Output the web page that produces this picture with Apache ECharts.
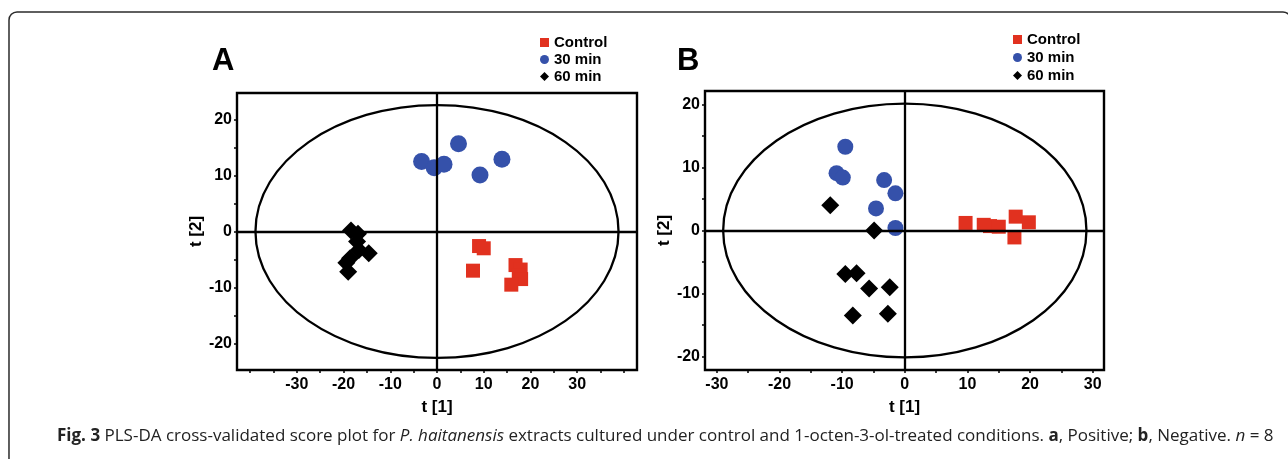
<!DOCTYPE html>
<html>
<head>
<meta charset="utf-8">
<script src="https://cdn.jsdelivr.net/npm/echarts@6/dist/echarts.min.js"></script>
<style>
  html, body { margin: 0; padding: 0; background: #fff; }
  #main { width: 1288px; height: 459px; }
</style>
</head>
<body>
<div id="main"></div>
<script>
// 图例名称
var groups = ['Control', '30 min', '60 min'];

// A: Positive
var controlA = [[9.0, -2.6], [10.0, -3.0], [7.7, -7.0], [16.8, -6.0], [17.9, -6.8], [17.5, -7.8], [18.0, -8.5], [15.9, -9.5]];
var min30A = [[-3.3, 12.5], [-0.6, 11.4], [1.5, 12.0], [4.6, 15.7], [9.2, 10.1], [13.9, 12.9]];
var min60A = [[-18.4, 0.2], [-16.9, -0.4], [-17.1, -1.8], [-14.6, -3.9], [-16.7, -3.3], [-18.6, -4.8], [-19.4, -5.6], [-19.0, -7.2]];

// B: Negative
var controlB = [[9.7, 1.2], [12.6, 0.9], [13.6, 0.7], [15.0, 0.6], [17.7, 2.2], [19.8, 1.3], [17.5, -1.1]];
var min30B = [[-9.5, 13.3], [-10.9, 9.1], [-9.9, 8.4], [-3.3, 8.0], [-1.5, 5.9], [-4.6, 3.5], [-1.5, 0.4]];
var min60B = [[-11.9, 4.0], [-4.9, 0.0], [-9.5, -6.9], [-7.7, -6.8], [-5.7, -9.2], [-2.4, -9.0], [-8.3, -13.5], [-2.7, -13.2]];

// Hotelling T2 ellipse half-axes [t1, t2]
var ellipseA = [38.85, 22.6];
var ellipseB = [29.0, 20.15];

// axis ranges
var xRangeA = [-42.8, 42.8];
var yRangeA = [-24.75, 24.75];
var xRangeB = [-31.9, 31.8];
var yRangeB = [-22.15, 22.15];

// tick labels / tick marks
var xLabelsA = [-30, -20, -10, 0, 10, 20, 30];
var yLabelsA = [-20, -10, 0, 10, 20];
var xTicksA = [-40, -35, -30, -25, -20, -15, -10, -5, 0, 5, 10, 15, 20, 25, 30, 35, 40];
var yTicksA = [-20, -15, -10, -5, 0, 5, 10, 15, 20];
var xLabelsB = [-30, -20, -10, 0, 10, 20, 30];
var yLabelsB = [-20, -10, 0, 10, 20];
var xTicksB = [-30, -25, -20, -15, -10, -5, 0, 5, 10, 15, 20, 25, 30];
var yTicksB = [-20, -15, -10, -5, 0, 5, 10, 15, 20];

var colors = { red: '#e1311f', blue: '#3551aa', black: '#000000' };
var axisFont = 'Liberation Sans, Arial, sans-serif';
var captionFont = 'Open Sans, Noto Sans, sans-serif';

function makeAxis(dim, range, labels, ticks, gridIndex, name, nameGap) {
    return {
        type: 'value',
        gridIndex: gridIndex,
        min: range[0],
        max: range[1],
        name: name,
        nameLocation: 'middle',
        nameGap: nameGap,
        nameRotate: dim === 'y' ? 90 : 0,
        nameTextStyle: { color: '#000', fontSize: 17, fontWeight: 'bold', fontFamily: axisFont },
        axisLine: { show: false, onZero: false },
        splitLine: { show: false },
        axisTick: {
            show: true, inside: false, length: 3,
            customValues: ticks,
            lineStyle: { color: '#000', width: 1.5 }
        },
        axisLabel: {
            customValues: labels,
            margin: dim === 'y' ? 5 : 7,
            color: '#000', fontSize: 16, fontWeight: 'bold', fontFamily: axisFont
        }
    };
}

function ellipseSeries(axes, gridIdx) {
    return {
        type: 'custom',
        xAxisIndex: gridIdx,
        yAxisIndex: gridIdx,
        silent: true,
        z: 1,
        data: [[0, 0]],
        renderItem: function (params, api) {
            var c = api.coord([0, 0]);
            var px = api.coord([axes[0], 0]);
            var py = api.coord([0, axes[1]]);
            return {
                type: 'ellipse',
                shape: { cx: c[0], cy: c[1], rx: px[0] - c[0], ry: c[1] - py[1] },
                style: { fill: 'none', stroke: '#000', lineWidth: 2.3 }
            };
        },
        markLine: {
            silent: true,
            symbol: ['none', 'none'],
            label: { show: false },
            lineStyle: { color: '#000', width: 2.3, type: 'solid' },
            data: [{ xAxis: 0 }, { yAxis: 0 }]
        }
    };
}

function scatter(name, data, gridIdx, symbol, size, color) {
    return {
        name: name,
        type: 'scatter',
        xAxisIndex: gridIdx,
        yAxisIndex: gridIdx,
        symbol: symbol,
        symbolSize: size,
        z: 3,
        itemStyle: { color: color, opacity: 1 },
        data: data
    };
}

var legendText = { color: '#000', fontSize: 15, fontWeight: 'bold', fontFamily: axisFont };
var legendData = [
    { name: groups[0], icon: 'rect' },
    { name: groups[1], icon: 'circle' },
    { name: groups[2], icon: 'diamond' }
];

var myChart = echarts.init(document.getElementById('main'));
var option = {
    animation: false,
    backgroundColor: '#fff',
    grid: [
        { left: 237, top: 93, width: 400, height: 277, show: true, borderColor: '#000', borderWidth: 2.4, backgroundColor: 'transparent' },
        { left: 705, top: 91, width: 399, height: 279, show: true, borderColor: '#000', borderWidth: 2.4, backgroundColor: 'transparent' }
    ],
    xAxis: [
        makeAxis('x', xRangeA, xLabelsA, xTicksA, 0, 't [1]', 29),
        makeAxis('x', xRangeB, xLabelsB, xTicksB, 1, 't [1]', 29)
    ],
    yAxis: [
        makeAxis('y', yRangeA, yLabelsA, yTicksA, 0, 't [2]', 21),
        makeAxis('y', yRangeB, yLabelsB, yTicksB, 1, 't [2]', 28)
    ],
    legend: [
        { orient: 'vertical', left: 540, top: 35, itemWidth: 9, itemHeight: 9, itemGap: 2, padding: 0, textStyle: legendText, data: legendData, selectedMode: false },
        { orient: 'vertical', left: 1013, top: 32, itemWidth: 9, itemHeight: 9, itemGap: 3, padding: 0, textStyle: legendText, data: legendData, selectedMode: false }
    ],
    series: [
        ellipseSeries(ellipseA, 0),
        scatter(groups[0], controlA, 0, 'rect', 14, colors.red),
        scatter(groups[1], min30A, 0, 'circle', 17, colors.blue),
        scatter(groups[2], min60A, 0, 'diamond', 18, colors.black),
        ellipseSeries(ellipseB, 1),
        scatter(groups[0], controlB, 1, 'rect', 14, colors.red),
        scatter(groups[1], min30B, 1, 'circle', 16, colors.blue),
        scatter(groups[2], min60B, 1, 'diamond', 18, colors.black)
    ],
    graphic: [
        {
            type: 'rect',
            shape: { x: 9, y: 12, width: 1282, height: 500, r: 8 },
            style: { fill: null, stroke: '#2b2b2b', lineWidth: 1.5 },
            silent: true
        },
        {
            type: 'text', left: 212, top: 46,
            style: { text: 'A', fill: '#000', font: 'bold 31px ' + axisFont }
        },
        {
            type: 'text', left: 677, top: 46,
            style: { text: 'B', fill: '#000', font: 'bold 31px ' + axisFont }
        },
        {
            type: 'text', left: 57, top: 428,
            style: {
                text: '{b|Fig. 3} PLS-DA cross-validated score plot for {i|P. haitanensis} extracts cultured under control and 1-octen-3-ol-treated conditions. {b|a}, Positive; {b|b}, Negative. {i|n} = 8',
                fill: '#222',
                fontSize: 17,
                fontFamily: captionFont,
                rich: {
                    b: { fontWeight: 'bold', fontSize: 17, fontFamily: captionFont, fill: '#222' },
                    i: { fontStyle: 'italic', fontSize: 17, fontFamily: captionFont, fill: '#222' }
                }
            }
        }
    ]
};
myChart.setOption(option);
</script>
</body>
</html>
